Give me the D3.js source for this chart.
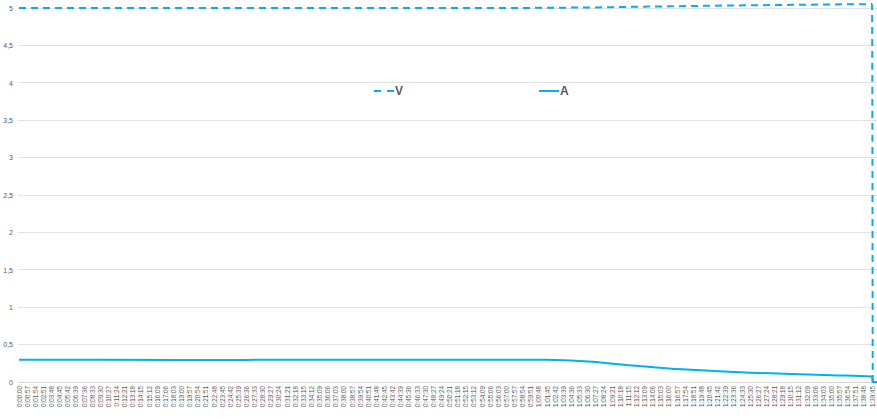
<!DOCTYPE html>
<html>
<head>
<meta charset="utf-8">
<script src="https://cdn.jsdelivr.net/npm/d3@7"></script>
<style>
  html, body { margin: 0; padding: 0; background: #fff; }
  svg { display: block; }
</style>
</head>
<body>
<div id="chart"></div>
<script>
(function () {
  'use strict';

  /* ---------- Data ---------- */
  // sample times in seconds since start
  const sampleTimes = [0, 570, 1140, 1710, 2280, 2850, 3420, 3705, 3990, 4275, 4560, 4845, 5130, 5415, 5700, 5985, 5990, 6020];
  const voltage     = [5.0, 5.0, 5.0, 5.0, 5.0, 5.0, 5.0, 5.003, 5.007, 5.015, 5.022, 5.03, 5.036, 5.042, 5.047, 5.052, 0, null];
  const current     = [0.296, 0.296, 0.295, 0.296, 0.298, 0.298, 0.298, 0.297, 0.273, 0.225, 0.18, 0.15, 0.124, 0.108, 0.091, 0.072, 0, 0];

  // axis ticks
  const yTicks = [0, 0.5, 1, 1.5, 2, 2.5, 3, 3.5, 4, 4.5, 5];
  const xTickStep = 57;     // one label every 57 s
  const xTickCount = 106;   // 0:00:00 ... 1:39:45

  /* ---------- Colours ---------- */
  const palette = {
    line: '#00b0f0',
    grid: '#e3e3e3',
    axis: '#d9d9d9',
    text: '#595959',
  };

  /* ---------- Size ---------- */
  const W = 877, H = 419;
  const plot = { left: 18, right: 877, top: 8, bottom: 382 };

  const svg = d3.select('#chart').append('svg')
    .attr('width', W)
    .attr('height', H);

  const x = d3.scaleLinear().domain([0, 6020]).range([19, plot.right]);
  const y = d3.scaleLinear().domain([0, 5]).range([plot.bottom, plot.top]);

  /* ---------- Grid ---------- */
  svg.append('g')
    .selectAll('line')
    .data(yTicks.filter(d => d > 0))
    .join('line')
    .attr('x1', plot.left).attr('x2', plot.right)
    .attr('y1', d => y(d)).attr('y2', d => y(d))
    .attr('stroke', palette.grid)
    .attr('stroke-width', 1)
    .attr('shape-rendering', 'crispEdges');

  // Y axis labels
  const yAxis = svg.append('g')
    .attr('transform', `translate(${plot.left},0)`)
    .call(d3.axisLeft(y).tickValues(yTicks).tickSize(0).tickPadding(5)
      .tickFormat(d => String(d).replace('.', ',')));
  yAxis.select('.domain').remove();
  yAxis.selectAll('text')
    .attr('fill', palette.text)
    .attr('font-size', '7px')
    .attr('font-family', "'Liberation Sans', Arial, sans-serif");

  // X axis
  const xTicks = d3.range(xTickCount).map(k => k * xTickStep);
  const fmtTime = s => {
    const h = Math.floor(s / 3600), m = Math.floor((s % 3600) / 60), sec = s % 60;
    return h + ':' + String(m).padStart(2, '0') + ':' + String(sec).padStart(2, '0');
  };
  const xAxis = svg.append('g')
    .attr('transform', `translate(0,${plot.bottom})`)
    .call(d3.axisBottom(x).tickValues(xTicks).tickSize(0).tickFormat(fmtTime));
  xAxis.select('.domain')
    .attr('d', `M${plot.left},0.5H${plot.right}`)
    .attr('stroke', palette.axis);
  xAxis.selectAll('text')
    .attr('fill', palette.text)
    .attr('font-size', '6.3px')
    .attr('font-family', "'Liberation Sans', Arial, sans-serif")
    .attr('text-anchor', 'end')
    .attr('dy', '0.32em')
    .attr('transform', 'translate(0,4) rotate(-90)')
    .attr('x', 0)
    .attr('y', 0);

  /* ---------- Lines ---------- */
  const rows = sampleTimes.map((t, i) => ({ t, v: voltage[i], a: current[i] }));

  const lineA = d3.line()
    .x(d => x(d.t)).y(d => y(d.a))
    .curve(d3.curveMonotoneX);
  const lineV = d3.line()
    .defined(d => d.v != null)
    .x(d => x(d.t)).y(d => y(d.v))
    .curve(d3.curveMonotoneX);

  svg.append('path')
    .datum(rows)
    .attr('d', lineA)
    .attr('fill', 'none')
    .attr('stroke', palette.line)
    .attr('stroke-width', 2);

  svg.append('path')
    .datum(rows)
    .attr('d', lineV)
    .attr('fill', 'none')
    .attr('stroke', palette.line)
    .attr('stroke-width', 2)
    .attr('stroke-dasharray', '7,5');

  /* ---------- Legend ---------- */
  const legend = svg.append('g').attr('font-family', "'Liberation Sans', Arial, sans-serif");
  const legendItems = [
    { name: 'V', x: 374, dash: '7,6' },
    { name: 'A', x: 539, dash: null },
  ];
  legendItems.forEach(it => {
    legend.append('line')
      .attr('x1', it.x).attr('x2', it.x + 20)
      .attr('y1', 91).attr('y2', 91)
      .attr('stroke', palette.line)
      .attr('stroke-width', 2)
      .attr('stroke-dasharray', it.dash);
    legend.append('text')
      .attr('x', it.x + 21).attr('y', 91)
      .attr('dy', '0.35em')
      .attr('fill', palette.text)
      .attr('font-size', '12px')
      .attr('font-weight', 700)
      .text(it.name);
  });
})();
</script>
</body>
</html>
